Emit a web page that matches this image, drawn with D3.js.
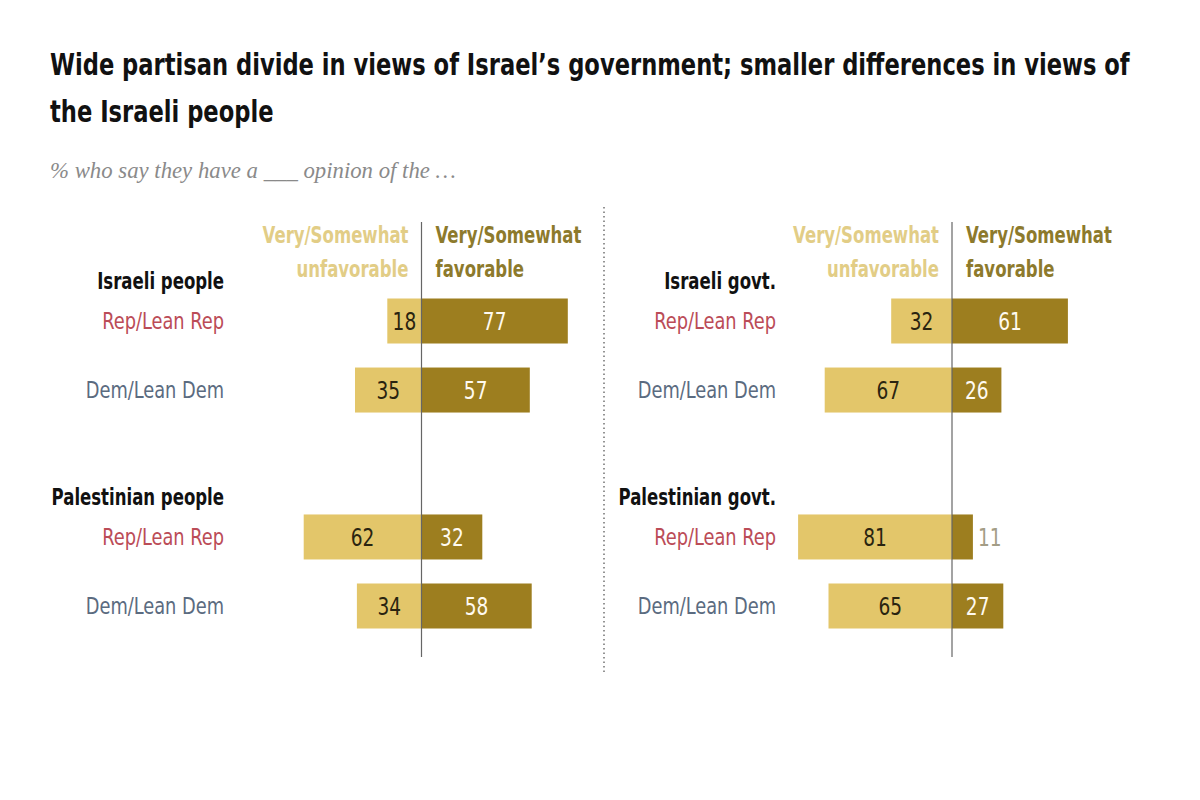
<!DOCTYPE html>
<html><head><meta charset="utf-8">
<script src="https://cdn.jsdelivr.net/npm/d3@7"></script>
<style>
html,body{margin:0;padding:0;background:#fff;}
svg{display:block;}
</style>
</head><body>
<svg id="chart" width="1200" height="800"></svg>
<script>
// ---- data ----
const titleLines = ["Wide partisan divide in views of Israel\u2019s government; smaller differences in views of", "the Israeli people"];
const subtitle = "% who say they have a ___ opinion of the \u2026";
const headerUnfav = ["Very/Somewhat", "unfavorable"];
const headerFav = ["Very/Somewhat", "favorable"];
const parties = ["Rep/Lean Rep", "Dem/Lean Dem"];
const groupsLeft = ["Israeli people", "Palestinian people"];
const groupsRight = ["Israeli govt.", "Palestinian govt."];
const israeliPeopleUnfav = [18, 35];
const israeliPeopleFav = [77, 57];
const palestinianPeopleUnfav = [62, 34];
const palestinianPeopleFav = [32, 58];
const israeliGovtUnfav = [32, 67];
const israeliGovtFav = [61, 26];
const palestinianGovtUnfav = [81, 65];
const palestinianGovtFav = [11, 27];

// ---- style ----
const FONT = "'DejaVu Sans Condensed','DejaVu Sans',sans-serif";
const SERIF = "'Liberation Serif','DejaVu Serif',serif";
const C_LIGHT = "#e3c66a", C_DARK = "#9d7e1f";
const C_HEAD_LIGHT = "#e2cd86", C_HEAD_DARK = "#8d7a2c";
const C_REP = "#bb4c57", C_DEM = "#5b6b80";
const K_BOLD = 0.80, K_REG = 0.86;

const svg = d3.select("#chart");

// helper: horizontally condensed text anchored at (x,y)
function addText(parent, x, y, str, o) {
  const t = parent.append("text")
    .attr("transform", `translate(${x},${y}) scale(${o.k || 1},1)`)
    .attr("text-anchor", o.anchor || "start")
    .attr("font-family", o.family || FONT)
    .attr("font-weight", o.bold ? "bold" : "normal")
    .attr("font-size", o.size)
    .attr("fill", o.fill)
    .text(str);
  if (o.dy) t.attr("dy", o.dy);
  if (o.italic) t.attr("font-style", "italic");
  return t;
}

// title (fit to reference line width)
titleLines.forEach((line, i) => {
  const t = addText(svg, 50, 75 + i * 47, line, { size: 30, bold: true, fill: "#111" });
  if (i === 0) {
    const w = t.node().getComputedTextLength();
    svg.property("titleK", 1080 / w);
  }
});
const kTitle = svg.property("titleK");
svg.selectAll("text").attr("transform", (d, i, n) => {
  const tr = d3.select(n[i]).attr("transform");
  return tr.replace(/scale\([^)]*\)/, `scale(${kTitle},1)`);
});

addText(svg, 50, 178, subtitle, { size: 23, family: SERIF, italic: true, fill: "#8a8a8a", k: 0.99 });

// divider
svg.append("line").attr("x1", 604).attr("x2", 604).attr("y1", 207).attr("y2", 672)
  .attr("stroke", "#7a7a7a").attr("stroke-width", 1.6).attr("stroke-dasharray", "1.5,3");

const panels = [
  { cx: 421.5, labelX: 224, groups: groupsLeft,
    unfav: [israeliPeopleUnfav, palestinianPeopleUnfav], fav: [israeliPeopleFav, palestinianPeopleFav] },
  { cx: 952, labelX: 776, groups: groupsRight,
    unfav: [israeliGovtUnfav, palestinianGovtUnfav], fav: [israeliGovtFav, palestinianGovtFav] }
];

const x = d3.scaleLinear().domain([0, 100]).range([0, 190]);

panels.forEach(p => {
  const g = svg.append("g");
  const yGroup = d3.scaleBand().domain(p.groups).range([298.5, 628.5]).paddingInner(0.472);
  const yParty = d3.scaleBand().domain(parties).range([0, yGroup.bandwidth()]).paddingInner(0.348);

  // headers
  headerUnfav.forEach((h, i) => addText(g, p.cx - 13, 243 + i * 34, h,
    { size: 23, bold: true, fill: C_HEAD_LIGHT, anchor: "end", k: K_BOLD }));
  headerFav.forEach((h, i) => addText(g, p.cx + 14, 243 + i * 34, h,
    { size: 23, bold: true, fill: C_HEAD_DARK, anchor: "start", k: K_BOLD }));

  p.groups.forEach((grp, gi) => {
    const gy = yGroup(grp);
    const h = yParty.bandwidth();
    addText(g, p.labelX, gy + h / 2 - 32, grp, { size: 23, bold: true, fill: "#111", anchor: "end", k: K_BOLD });

    parties.forEach((party, pi) => {
      const y0 = gy + yParty(party);
      const u = p.unfav[gi][pi], f = p.fav[gi][pi];
      addText(g, p.labelX, y0 + h / 2, party,
        { size: 23, fill: pi === 0 ? C_REP : C_DEM, anchor: "end", dy: "0.36em", k: K_REG });

      g.append("rect").attr("x", p.cx - x(u)).attr("y", y0).attr("width", x(u)).attr("height", h)
        .attr("fill", C_LIGHT);
      g.append("rect").attr("x", p.cx).attr("y", y0).attr("width", x(f)).attr("height", h)
        .attr("fill", C_DARK);

      addText(g, p.cx - x(u) / 2, y0 + h / 2, u,
        { size: 24, fill: "#2a2410", anchor: "middle", dy: "0.36em", k: K_REG });
      const inside = f >= 13;
      addText(g, inside ? p.cx + x(f) / 2 : p.cx + x(f) + 5, y0 + h / 2, f,
        { size: 24, fill: inside ? "#fffaf0" : "#a39d86", anchor: inside ? "middle" : "start", dy: "0.36em", k: K_REG });
    });
  });

  // center line
  g.append("line").attr("x1", p.cx).attr("x2", p.cx).attr("y1", 222).attr("y2", 657)
    .attr("stroke", "#666").attr("stroke-width", 1.2);
});
</script>
</body></html>
